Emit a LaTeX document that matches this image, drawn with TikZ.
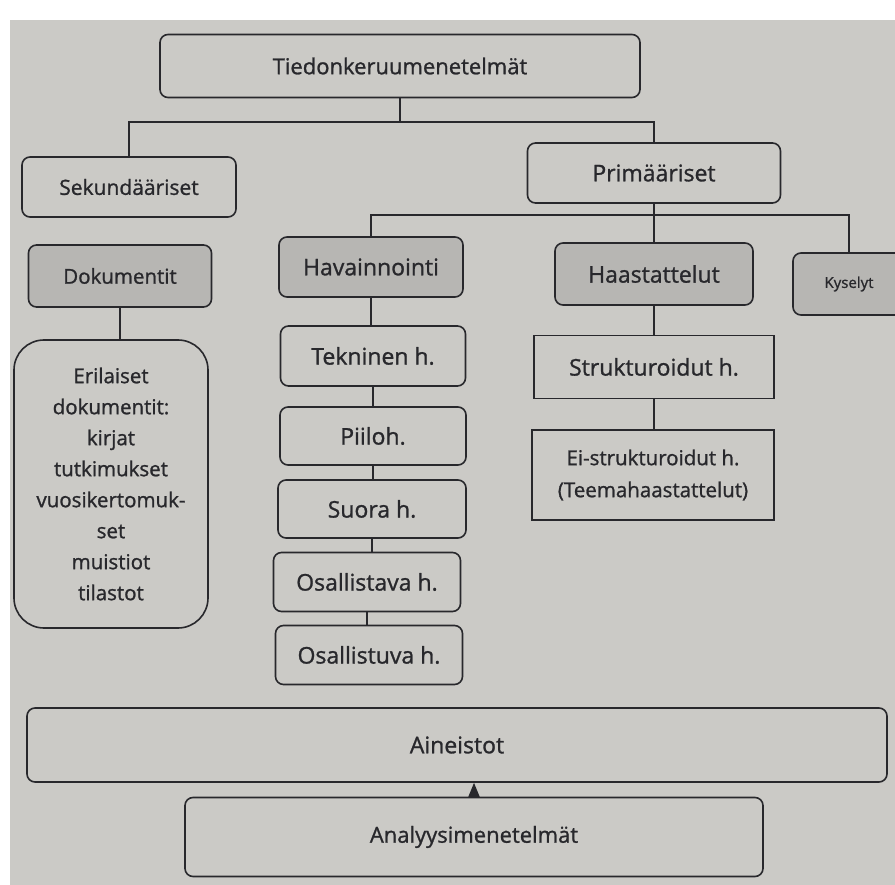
\documentclass[tikz,border=0pt]{standalone}
\usepackage{fontspec}
\setmainfont{Open Sans}[FakeBold=1.1]
\usetikzlibrary{arrows.meta}
\definecolor{page}{RGB}{203,202,198}
\definecolor{shade}{RGB}{183,182,179}
\definecolor{ink}{RGB}{40,40,44}
\begin{document}
\begin{tikzpicture}[x=1pt,y=-1pt,
  box/.style={draw=ink, line width=1.6pt, rounded corners=8pt, fill=page, text=ink,
    font=\fontsize{22}{31}\selectfont, inner sep=0pt, align=center},
  shadebox/.style={box, fill=shade},
  sqbox/.style={box, sharp corners},
  big/.style={font=\fontsize{23}{31}\selectfont},
  link/.style={draw=ink, line width=1.6pt}]
\useasboundingbox (0,0) rectangle (895,885);
\fill[white] (0,0) rectangle (895,885);
\fill[page] (10,20) rectangle (895,885);

\node[box, minimum width=480pt, minimum height=63pt] (top) at (400,66) {Tiedonkeruumenetelmät};
\node[box, minimum width=214pt, minimum height=60pt, font=\fontsize{21}{31}\selectfont] (sek) at (129,187) {Sekundääriset};
\node[box, big, minimum width=253pt, minimum height=60pt] (pri) at (654,173) {Primääriset};

\node[shadebox, font=\fontsize{20.5}{31}\selectfont, minimum width=183pt, minimum height=62pt] (dok) at (120,276) {Dokumentit};
\node[shadebox, big, minimum width=184pt, minimum height=60pt] (hav) at (371,267) {Havainnointi};
\node[shadebox, big, minimum width=198pt, minimum height=62pt] (haa) at (654,274) {Haastattelut};
\node[shadebox, minimum width=112pt, minimum height=62pt,
  font=\fontsize{15}{18}\selectfont] (kys) at (849,284) {Kyselyt};

\node[box, rounded corners=30pt, minimum width=194pt, minimum height=288pt,
  font=\fontsize{20.5}{31}\selectfont] (eri) at (111,484)
  {Erilaiset\\dokumentit:\\kirjat\\tutkimukset\\vuosikertomuk-\\set\\muistiot\\tilastot};

\node[box, big, minimum width=185pt, minimum height=60pt] (tek) at (373,356) {Tekninen h.};
\node[box, big, minimum width=186pt, minimum height=58pt] (pii) at (373,436) {Piiloh.};
\node[box, big, minimum width=188pt, minimum height=58pt] (suo) at (372,509) {Suora h.};
\node[box, big, minimum width=187pt, minimum height=59pt] (osa) at (367,582) {Osallistava h.};
\node[box, big, minimum width=187pt, minimum height=59pt] (osu) at (369,655) {Osallistuva h.};

\node[sqbox, big, minimum width=240pt, minimum height=63pt] (str) at (654,367) {Strukturoidut h.};
\node[sqbox, minimum width=242pt, minimum height=90pt, font=\fontsize{20.5}{32}\selectfont] (ei) at (653,475)
  {Ei-strukturoidut h.\\(Teemahaastattelut)};

\node[box, minimum width=860pt, minimum height=74pt, font=\fontsize{23}{28}\selectfont] (ain) at (457,745) {Aineistot};
\node[box, minimum width=578pt, minimum height=79pt] (ana) at (474,837) {Analyysimenetelmät};

% connectors
\coordinate (j1) at (400,122);
\draw[link] (top.south) -- (j1);
\draw[link] (sek.north) |- (j1) -| (pri.north);
\coordinate (j2) at (654,215);
\draw[link] (pri.south) -- (j2) -- (haa.north);
\draw[link] (hav.north) |- (j2);
\draw[link] (j2) -| (kys.north);
\draw[link] (dok.south) -- (dok.south |- eri.north);
\draw[link] (hav.south) -- (hav.south |- tek.north);
\draw[link] (tek.south) -- (tek.south |- pii.north);
\draw[link] (pii.south) -- (pii.south |- suo.north);
\draw[link] (suo.south) -- (suo.south |- osa.north);
\draw[link] (osa.south) -- (osa.south |- osu.north);
\draw[link] (haa.south) -- (haa.south |- str.north);
\draw[link] (str.south) -- (str.south |- ei.north);
\draw[link, -{Triangle[length=14pt,width=11pt]}] (ana.north) -- (ana.north |- ain.south);
\end{tikzpicture}
\end{document}
